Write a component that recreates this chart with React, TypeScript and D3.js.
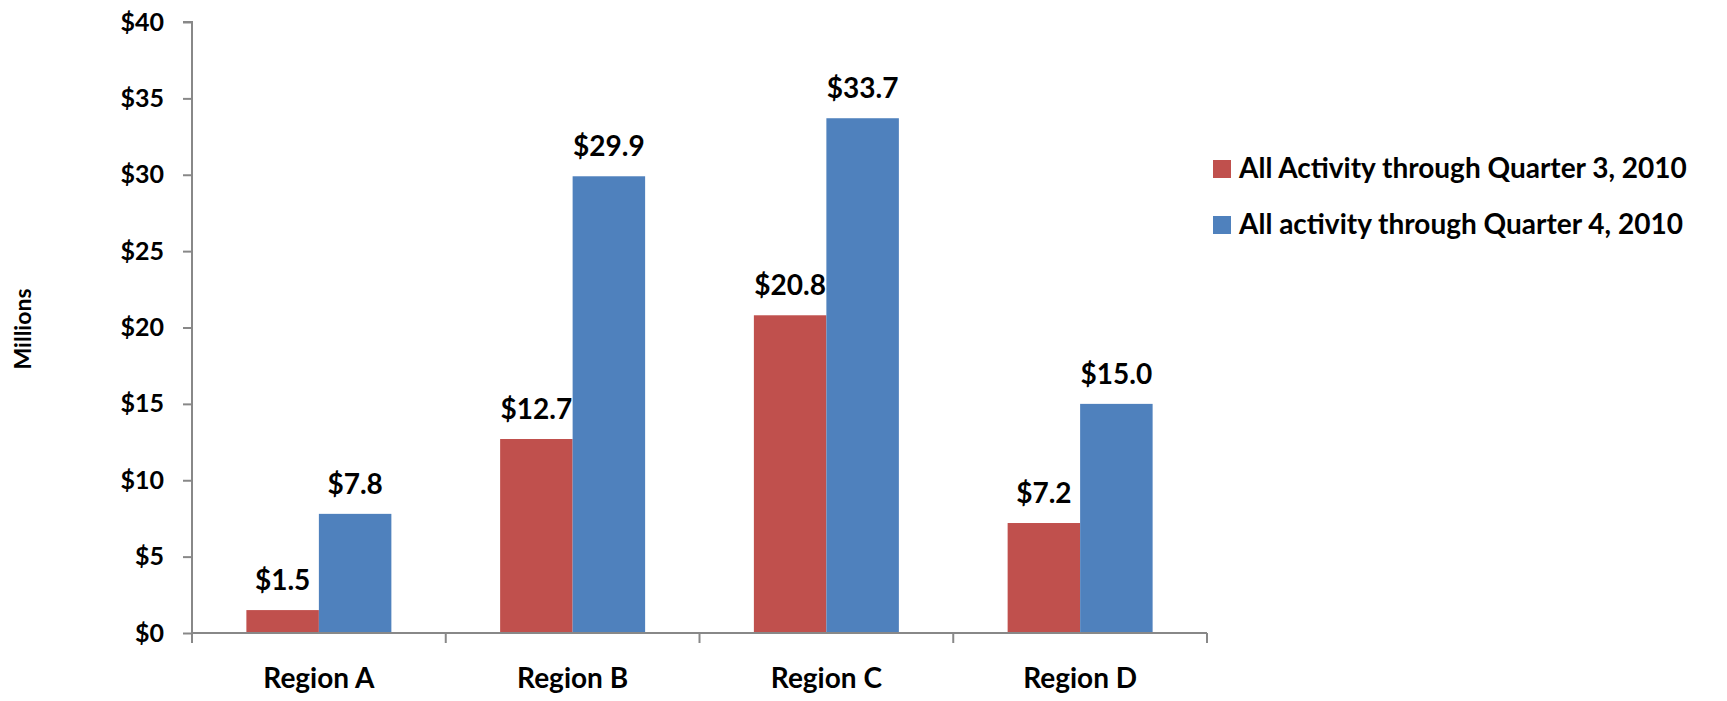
import React, { useEffect, useRef } from 'react';
import * as d3 from 'd3';

const regions = ['Region A', 'Region B', 'Region C', 'Region D'];
const seriesNames = ['All Activity through Quarter 3, 2010', 'All activity through Quarter 4, 2010'];
const q3Values = [1.5, 12.7, 20.8, 7.2];
const q4Values = [7.8, 29.9, 33.7, 15.0];
const yTicks = [0, 5, 10, 15, 20, 25, 30, 35, 40];
const colors = ['#C0504D', '#4F81BD'];

const FONT = 'Lato, "Open Sans", sans-serif';

const App: React.FC = () => {
  const svgRef = useRef<SVGSVGElement | null>(null);

  useEffect(() => {
    if (!svgRef.current) return;
    const svg = d3.select(svgRef.current);
    svg.selectAll('*').remove();

    const width = 1727;
    const height = 701;
    const margin = { top: 22, left: 192, bottom: 68, right: 520 };
    const axisColor = '#888888';

    const x0 = d3.scaleBand()
      .domain(regions)
      .range([margin.left, width - margin.right])
      .paddingInner(0.4286)
      .paddingOuter(0.2143);

    const x1 = d3.scaleBand()
      .domain(seriesNames)
      .range([0, x0.bandwidth()]);

    const y = d3.scaleLinear()
      .domain([0, 40])
      .range([height - margin.bottom, margin.top]);

    const rows = regions.map((r, i) => ({ region: r, values: [q3Values[i], q4Values[i]] }));

    // bars
    const groups = svg.append('g')
      .selectAll('g')
      .data(rows)
      .join('g')
      .attr('transform', d => `translate(${x0(d.region)},0)`);

    groups.selectAll('rect')
      .data(d => d.values.map((v, i) => ({ key: seriesNames[i], value: v, i })))
      .join('rect')
      .attr('x', d => x1(d.key)!)
      .attr('y', d => y(d.value))
      .attr('width', x1.bandwidth())
      .attr('height', d => y(0) - y(d.value))
      .attr('fill', d => colors[d.i]);

    // data labels
    groups.selectAll('text')
      .data(d => d.values.map((v, i) => ({ key: seriesNames[i], value: v })))
      .join('text')
      .attr('x', d => x1(d.key)! + x1.bandwidth() / 2)
      .attr('y', d => y(d.value) - 20)
      .attr('text-anchor', 'middle')
      .attr('font-family', FONT)
      .attr('font-weight', 'bold')
      .attr('font-size', 28)
      .attr('fill', '#000')
      .text(d => `$${d.value.toFixed(1)}`);

    // y axis
    const yAxis = svg.append('g')
      .attr('transform', `translate(${margin.left},0)`)
      .call(d3.axisLeft(y).tickValues(yTicks).tickSize(9).tickPadding(19).tickFormat(d => `$${d}`));
    yAxis.selectAll('path, line').attr('stroke', axisColor).attr('stroke-width', 2);
    yAxis.select('.domain').attr('d', `M-9,${margin.top}H0V${y(0)}`);
    yAxis.selectAll('text')
      .attr('font-family', FONT)
      .attr('font-weight', 'bold')
      .attr('font-size', 25)
      .attr('fill', '#000');

    // x axis with ticks at category boundaries
    const xAxisG = svg.append('g').attr('transform', `translate(0,${y(0)})`);
    xAxisG.append('line')
      .attr('x1', margin.left).attr('x2', width - margin.right)
      .attr('stroke', axisColor).attr('stroke-width', 2);
    const step = x0.step();
    xAxisG.selectAll('line.tick')
      .data(d3.range(regions.length + 1))
      .join('line')
      .attr('class', 'tick')
      .attr('x1', i => margin.left + i * step)
      .attr('x2', i => margin.left + i * step)
      .attr('y1', 0).attr('y2', 10)
      .attr('stroke', axisColor).attr('stroke-width', 2);
    xAxisG.selectAll('text')
      .data(regions)
      .join('text')
      .attr('x', d => x0(d)! + x0.bandwidth() / 2)
      .attr('y', 55)
      .attr('text-anchor', 'middle')
      .attr('font-family', FONT)
      .attr('font-weight', 'bold')
      .attr('font-size', 28)
      .attr('fill', '#000')
      .text(d => d);

    // y title
    svg.append('text')
      .attr('transform', `translate(31,329) rotate(-90)`)
      .attr('text-anchor', 'middle')
      .attr('font-family', FONT)
      .attr('font-weight', 'bold')
      .attr('font-size', 23)
      .attr('fill', '#000')
      .text('Millions');

    // legend
    const legend = svg.append('g').attr('transform', 'translate(1213,160)');
    const items = legend.selectAll('g')
      .data(seriesNames)
      .join('g')
      .attr('transform', (_, i) => `translate(0,${i * 56})`);
    items.append('rect')
      .attr('width', 18).attr('height', 18)
      .attr('fill', (_, i) => colors[i]);
    items.append('text')
      .attr('x', 26).attr('y', 18)
      .attr('font-family', FONT)
      .attr('font-weight', 'bold')
      .attr('font-size', 28)
      .attr('fill', '#000')
      .text(d => d);
  }, []);

  return <svg ref={svgRef} width={1727} height={701} style={{ display: 'block', margin: '-8px' }} />;
};

export default App;
